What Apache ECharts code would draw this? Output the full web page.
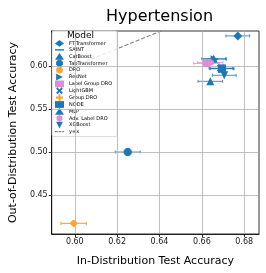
<!DOCTYPE html>
<html><head><meta charset="utf-8">
<script src="https://cdn.jsdelivr.net/npm/echarts@6/dist/echarts.min.js"></script>
<style>html,body{margin:0;padding:0;background:#fff}#c{width:266px;height:273px}</style>
</head><body><div id="c"></div>
<script>
const models = ['FT-Transformer','SAINT','CatBoost','TabTransformer','DRO','ResNet','Label Group DRO','LightGBM','Group DRO','NODE','MLP','Adv. Label DRO','XGBoost'];
const idAcc  = [0.6770, 0.6695, 0.6656, 0.6250, 0.5995, 0.6660, 0.6622, 0.6690, 0.5995, 0.6695, 0.6640, 0.6640, 0.6706];
const oodAcc = [0.6350, 0.5970, 0.6085, 0.5000, 0.4171, 0.6080, 0.6030, 0.5975, 0.4170, 0.5969, 0.5822, 0.6040, 0.5892];
const idErr  = [0.0056, 0.0056, 0.0056, 0.0059, 0.0060, 0.0056, 0.0060, 0.0056, 0.0060, 0.0056, 0.0058, 0.0060, 0.0056];
const xTicks = [0.60, 0.62, 0.64, 0.66, 0.68];
const yTicks = [0.45, 0.50, 0.55, 0.60];
const refLine = [0.55, 0.70];

const BLUE = '#1f77b4', ORANGE = '#f5a83a', PINK = '#dc8fd2';
const colors = [BLUE, BLUE, BLUE, BLUE, ORANGE, BLUE, PINK, BLUE, ORANGE, BLUE, BLUE, PINK, BLUE];
const symbols = [
  'diamond',
  'path://M0,4.2H10V5.8H0Z',
  'triangle',
  'path://M3,0H7L10,3V7L7,10H3L0,7V3Z',
  'circle',
  'path://M0,0L10,5L0,10Z',
  'rect',
  'path://M0,2L2,0L5,3L8,0L10,2L7,5L10,8L8,10L5,7L2,10L0,8L3,5Z',
  'path://M3.5,0H6.5V3.5H10V6.5H6.5V10H3.5V6.5H0V3.5H3.5Z',
  'rect',
  'triangle',
  'path://M5,0L9.33,2.5L9.33,7.5L5,10L0.67,7.5L0.67,2.5Z',
  'path://M0,0L10,0L5,10Z'
];
const sizes = [9,8,8,8,6,8,7,8,7,8,8,7,8];

const series = [];
series.push({
  type:'scatter', name:'_grid', data:[], silent:true, z:0,
  markLine:{silent:true, symbol:'none', label:{show:false}, animation:false,
    lineStyle:{color:'#b0b0b0', width:0.8, type:'solid'},
    data: xTicks.map(v=>({xAxis:v})).concat(yTicks.map(v=>({yAxis:v})))}
});
series.push({
  type:'line', name:'y=x', data: refLine.map(v=>[v,v]), showSymbol:false, symbol:'none',
  lineStyle:{color:'#808080', width:1.2, type:[4,2]}, z:1, silent:true, animation:false
});
series.push({
  type:'custom', name:'_err', z:2, silent:true, animation:false,
  data: models.map((m,i)=>({value:[idAcc[i], oodAcc[i], idErr[i]], itemStyle:{color:colors[i]}})),
  renderItem:function(params, api){
    const x=api.value(0), y=api.value(1), e=api.value(2);
    const p1=api.coord([x-e,y]), p2=api.coord([x+e,y]);
    const c=api.visual('color');
    const st={stroke:c, lineWidth:1, opacity:0.8};
    return {type:'group', children:[
      {type:'line', shape:{x1:p1[0],y1:p1[1],x2:p2[0],y2:p2[1]}, style:st},
      {type:'line', shape:{x1:p1[0],y1:p1[1]-1.5,x2:p1[0],y2:p1[1]+1.5}, style:st},
      {type:'line', shape:{x1:p2[0],y1:p2[1]-1.5,x2:p2[0],y2:p2[1]+1.5}, style:st}
    ]};
  }
});
models.forEach((m,i)=>{
  series.push({
    type:'scatter', name:m, data:[[idAcc[i], oodAcc[i]]], symbol:symbols[i], symbolSize:sizes[i],
    itemStyle:{color:colors[i], opacity:1}, z:3+i, animation:false
  });
});

const legendData = models.map((m,i)=>({name:m, icon:symbols[i], itemStyle:{color:colors[i]}}));
legendData.push({name:'y=x', icon:'path://M0,4.4H3V5.6H0ZM4,4.4H7V5.6H4ZM8,4.4H10V5.6H8Z', itemStyle:{color:'#808080'}});

const chart = echarts.init(document.getElementById('c'), null, {renderer:'canvas'});
chart.setOption({
  animation:false,
  backgroundColor:'#fff',
  textStyle:{fontFamily:'DejaVu Sans'},
  title:{text:'Hypertension', left:154.5, textAlign:'center', top:4,
    textStyle:{fontFamily:'DejaVu Sans', fontSize:16, fontWeight:'normal', color:'#000'}},
  grid:{left:50, right:7, top:31, bottom:39, show:true, borderColor:'#000', borderWidth:0.8, backgroundColor:'transparent'},
  xAxis:{type:'value', min:0.5891, max:0.687,
    name:'In-Distribution Test Accuracy', nameLocation:'middle', nameGap:22,
    nameTextStyle:{fontFamily:'DejaVu Sans', fontSize:11, color:'#000'},
    axisLine:{show:true, lineStyle:{color:'#000', width:0.8}},
    axisTick:{show:true, length:3, lineStyle:{color:'#000', width:0.8}, customValues:xTicks},
    axisLabel:{customValues:xTicks, fontSize:8, color:'#222', margin:4, formatter:v=>v.toFixed(2)},
    splitLine:{show:false}},
  yAxis:{type:'value', min:0.4047, max:0.6407,
    name:'Out-of-Distribution Test Accuracy', nameLocation:'middle', nameGap:32,
    nameTextStyle:{fontFamily:'DejaVu Sans', fontSize:11, color:'#000'},
    axisLine:{show:true, lineStyle:{color:'#000', width:0.8}},
    axisTick:{show:true, length:3, lineStyle:{color:'#000', width:0.8}, customValues:yTicks},
    axisLabel:{customValues:yTicks, fontSize:8, color:'#222', margin:4, formatter:v=>v.toFixed(2)},
    splitLine:{show:false}},
  legend:{orient:'vertical', left:52, top:31, data:legendData,
    padding:[9,5,2,3], itemWidth:9, itemHeight:6.8, itemGap:0.08,
    backgroundColor:'rgba(255,255,255,0.85)', borderColor:'#d0d0d0', borderWidth:0.8, borderRadius:2,
    textStyle:{fontFamily:'DejaVu Sans', fontSize:5, lineHeight:6, color:'#000'}, selectedMode:false},
  graphic:[{type:'text', left:80-13, top:31.5, z:100,
    style:{text:'Model', font:'9px "DejaVu Sans"', fill:'#000'}}],
  series:series
});
</script>
</body></html>
